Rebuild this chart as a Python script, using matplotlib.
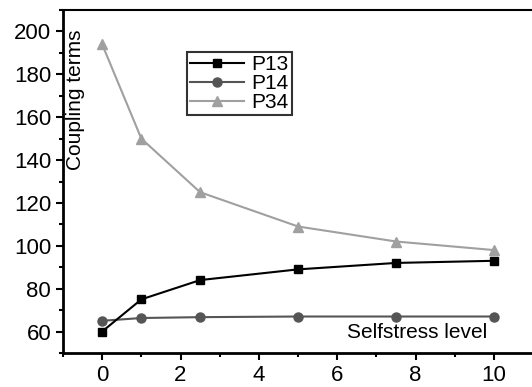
import matplotlib
matplotlib.use("Agg")
import matplotlib.pyplot as plt
from matplotlib.ticker import MultipleLocator

plt.rcParams['font.family'] = ['Liberation Sans', 'DejaVu Sans']

selfstress = [0, 1, 2.5, 5, 7.5, 10]
p13 = [60, 75, 84, 89, 92, 93]
p14 = [65, 66.3, 66.7, 67, 67, 67]
p34 = [194, 150, 125, 109, 102, 98]

fig = plt.figure(figsize=(5.32, 3.87), dpi=100)
ax = fig.add_axes([0.1184, 0.088, 0.8816, 0.886])

ax.plot(selfstress, p34, '-^', color='#a0a0a0', lw=1.5, markersize=7, label='P34', zorder=2)
ax.plot(selfstress, p14, '-o', color='#555555', lw=1.5, markersize=6.5, label='P14', zorder=3)
ax.plot(selfstress, p13, '-s', color='black', lw=1.5, markersize=6, label='P13', zorder=4)

ax.set_xlim(-1, 10.97)
ax.set_ylim(50, 210)
ax.xaxis.set_major_locator(MultipleLocator(2))
ax.xaxis.set_minor_locator(MultipleLocator(1))
ax.yaxis.set_minor_locator(MultipleLocator(10))
ax.set_yticks(range(60, 201, 20))
ax.tick_params(which='both', direction='out', width=1.5, labelsize=16)
ax.tick_params(which='major', length=5)
ax.tick_params(which='minor', length=3)
ax.spines['right'].set_visible(False)
for s in ['left', 'bottom']:
    ax.spines[s].set_linewidth(2)
ax.spines['top'].set_linewidth(1.5)

ax.text(-0.69, 168, 'Coupling terms', rotation=90, fontsize=15, ha='center', va='center')
ax.text(9.82, 59.5, 'Selfstress level', fontsize=15, ha='right', va='center')

h, l = ax.get_legend_handles_labels()
leg = ax.legend(h[::-1], l[::-1], loc='upper left', bbox_to_anchor=(0.2645, 0.877),
                fontsize=15, frameon=True, fancybox=False, edgecolor='black',
                handlelength=2.6, handletextpad=0.35, labelspacing=0.0,
                borderpad=0.15, borderaxespad=0)
leg.get_frame().set_linewidth(1.5)

fig.savefig('out.png', dpi=100)
